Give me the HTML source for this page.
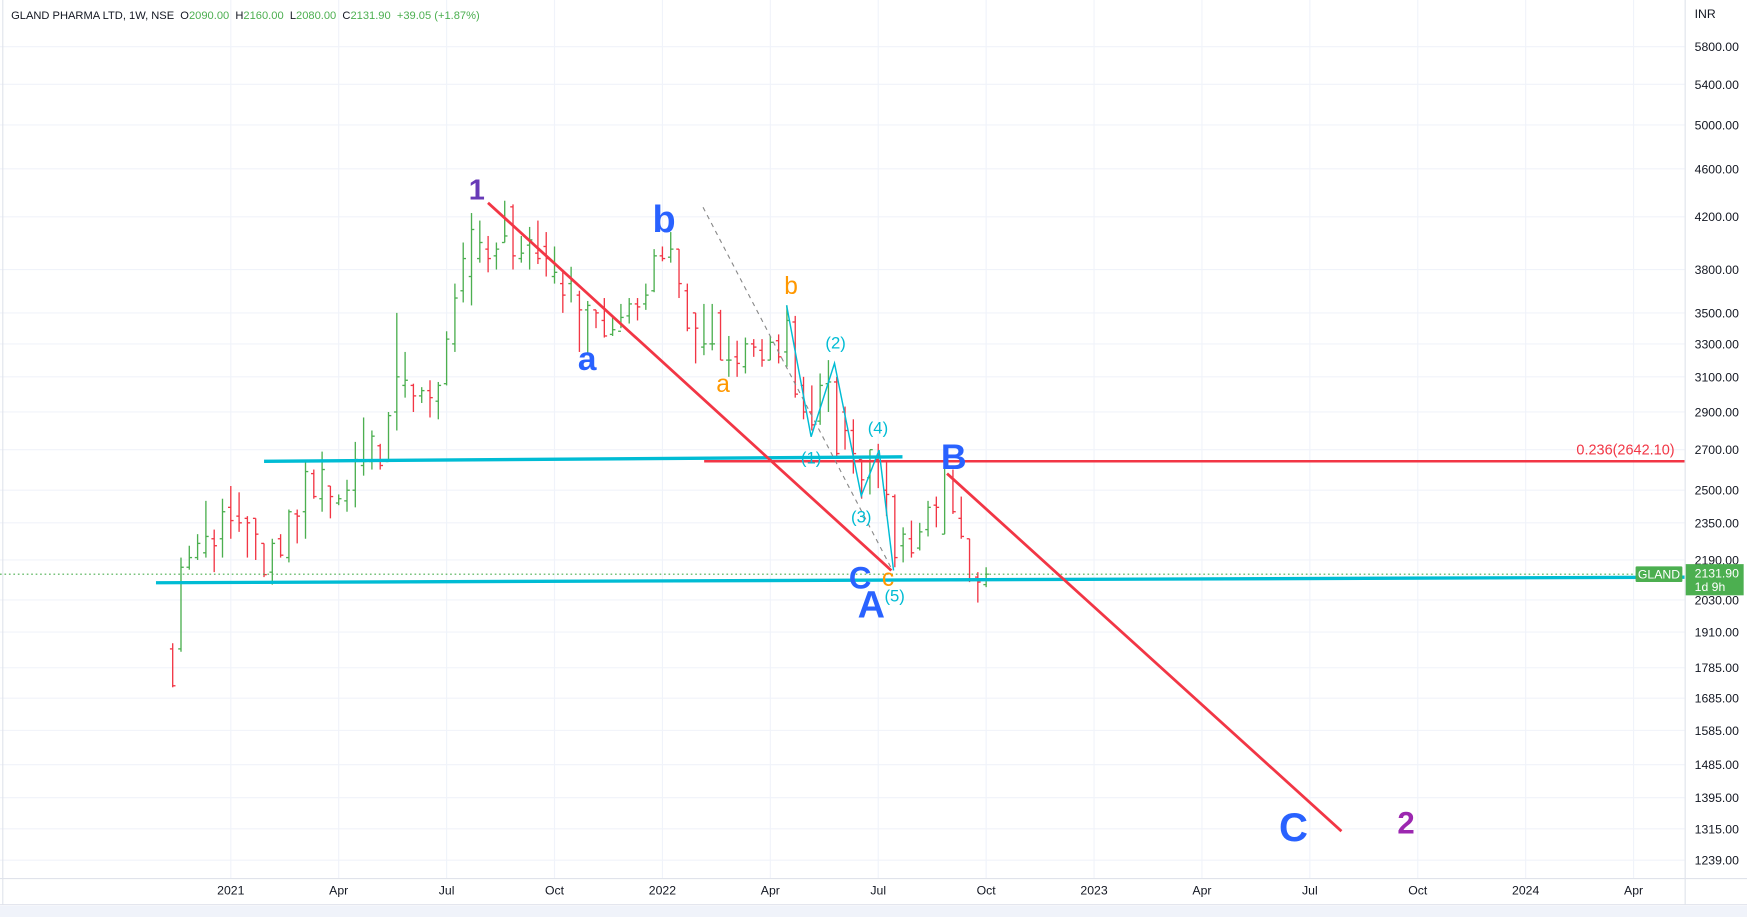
<!DOCTYPE html>
<html><head><meta charset="utf-8">
<style>
html,body{margin:0;padding:0;background:#fff;}
svg{display:block;font-family:"Liberation Sans",sans-serif;}
</style></head>
<body>
<svg id="chart" width="1747" height="917" viewBox="0 0 1568 823" preserveAspectRatio="none" xmlns="http://www.w3.org/2000/svg">
<rect x="0" y="0" width="1568" height="823" fill="#fff"/>
<g id="grid"></g>
<g id="bars"></g>
<g id="draw"></g>
<g id="axes"></g>
</svg>
<script>
const priceTicks=[5800,5400,5000,4600,4200,3800,3500,3300,3100,2900,2700,2500,2350,2190,2030,1910,1785,1685,1585,1485,1395,1315,1239];
const timeLabels=["2021","Apr","Jul","Oct","2022","Apr","Jul","Oct","2023","Apr","Jul","Oct","2024","Apr"];
const timeWeeks=[7,20,33,46,59,72,85,98,111,124,137,150,163,176];
const opens=[1850,1850,2160,2200,2220,2280,2280,2420,2380,2370,2370,2260,2140,2280,2200,2390,2400,2580,2460,2520,2440,2450,2500,2620,2640,2720,2640,2900,3050,3050,2990,3020,2960,3060,3300,3650,3750,3880,3950,3900,4000,4280,3880,3980,3920,3970,3750,3700,3700,3620,3520,3520,3450,3360,3380,3480,3560,3560,3650,3900,3890,3950,3650,3500,3280,3300,3500,3200,3220,3160,3300,3260,3200,3320,3250,3440,3050,2900,2850,3060,3070,2900,2800,2650,2560,2650,2500,2470,2250,2280,2240,2320,2430,2300,2560,2370,2280,2120,2090];
const highs=[1870,2200,2250,2300,2450,2320,2460,2520,2490,2380,2370,2260,2280,2300,2410,2410,2650,2600,2690,2520,2480,2550,2740,2870,2800,2730,2900,3500,3250,3060,3040,3080,3070,3380,3700,4000,4230,4170,4050,4000,4330,4300,4050,4120,4170,4080,3970,3800,3820,3650,3580,3520,3600,3470,3560,3600,3600,3700,3950,3970,4080,3950,3700,3500,3560,3560,3520,3350,3320,3340,3330,3330,3350,3360,3550,3480,3100,3050,3120,3200,3100,2930,2860,2650,2700,2730,2640,2480,2330,2360,2350,2450,2470,2660,2600,2470,2280,2140,2160];
const lows=[1720,1840,2150,2190,2200,2140,2200,2280,2310,2200,2190,2120,2090,2200,2180,2260,2280,2460,2400,2370,2430,2400,2420,2570,2600,2600,2640,2800,2980,2900,2950,2870,2860,3050,3250,3570,3550,3850,3780,3800,4000,3800,3850,3800,3840,3750,3700,3500,3570,3250,3230,3400,3340,3350,3400,3430,3450,3520,3640,3860,3850,3600,3380,3180,3230,3260,3200,3100,3100,3120,3220,3160,3200,3180,3160,2980,2860,2800,2830,2900,2660,2700,2580,2460,2480,2510,2380,2160,2180,2200,2230,2290,2330,2300,2390,2280,2100,2020,2080];
const closes=[1725,2160,2200,2260,2290,2250,2400,2360,2350,2350,2300,2130,2260,2210,2400,2380,2590,2470,2600,2470,2460,2500,2650,2640,2770,2620,2880,3100,3080,2990,3020,2980,3050,3330,3600,3880,4100,4000,3880,3950,4050,3900,3920,4020,3880,3880,3780,3620,3720,3520,3550,3500,3350,3390,3470,3560,3540,3620,3900,3880,3950,3700,3400,3400,3300,3300,3200,3200,3180,3300,3280,3200,3310,3220,3450,3000,2900,2830,3050,3070,2680,2800,2680,2550,2700,2640,2480,2200,2300,2220,2310,2420,2420,2620,2400,2290,2110,2100,2131.9];

const NS="http://www.w3.org/2000/svg";
const PLOT_R=1512, AXIS_Y=788;
function yP(p){return 772-473*Math.log(p/1239);}
function xW(i){return 155+7.45*i;}
function mk(tag,attrs,parent){const e=document.createElementNS(NS,tag);for(const k in attrs)e.setAttribute(k,attrs[k]);parent.appendChild(e);return e;}
const grid=document.getElementById('grid'),bars=document.getElementById('bars'),draw=document.getElementById('draw'),axes=document.getElementById('axes');

priceTicks.forEach(p=>{const l=mk('line',{x1:0,x2:PLOT_R,y1:yP(p),y2:yP(p),stroke:'#f0f3fa','stroke-width':1},grid);

});
timeWeeks.forEach(w=>{const l=mk('line',{x1:xW(w),x2:xW(w),y1:0,y2:AXIS_Y,stroke:'#f0f3fa','stroke-width':1},grid);

});

closes.forEach((c,i)=>{const o=opens[i],h=highs[i],lo=lows[i];const col=c>=o?'#4caf50':'#f23645';const x=xW(i);
const g=mk('g',{},bars);


mk('line',{x1:x,x2:x,y1:yP(h),y2:yP(lo),stroke:col,'stroke-width':1.2},g);
mk('line',{x1:x-2.5,x2:x,y1:yP(o),y2:yP(o),stroke:col,'stroke-width':1.2},g);
mk('line',{x1:x,x2:x+2.5,y1:yP(c),y2:yP(c),stroke:col,'stroke-width':1.2},g);});

const lp=closes[closes.length-1];
const dl=mk('line',{x1:0,x2:PLOT_R,y1:yP(lp),y2:yP(lp),stroke:'#4caf50','stroke-width':1,'stroke-dasharray':'1.5,2.5'},draw);



function line(x1,y1,x2,y2,col,w,name,dash){const l=mk('line',{x1,y1,x2,y2,stroke:col,'stroke-width':w},draw);if(dash)l.setAttribute('stroke-dasharray',dash);

}
function txt(x,y,s,col,size,name,weight,anchor){const t=mk('text',{x,y,fill:col,'font-size':size,'text-anchor':anchor||'middle','font-weight':weight||'normal'},draw);t.textContent=s;

}

line(237,414,810,410,'#00bcd4',3,'support-line-upper');
line(140,523,1512,518,'#00bcd4',3,'support-line-lower');
line(632,414,1512,414,'#f23645',2.2,'fib-0236-line');
line(438,182,800,512,'#f23645',2.5,'trendline-1-a');
line(850,425,1204,746,'#f23645',2.5,'trendline-b-c');
line(631,186,800,510,'#888',1,'dashed-channel',"4,4");
const pl=mk('polyline',{points:'706,274 728,392 749,326 773,445 789,404 802,512',fill:'none',stroke:'#00bcd4','stroke-width':1.3},draw);



txt(1503,408,'0.236(2642.10)','#f23645',13,'fib-label',null,'end');
txt(428,179,'1','#673ab7',26,'wave-1-label','bold');
txt(527,332,'a','#2962ff',30,'wave-a-label','bold');
txt(596,208,'b','#2962ff',34,'wave-b-label','bold');
txt(710,264,'b','#ff9800',22,'wave-b-minor-label');
txt(649,352,'a','#ff9800',22,'wave-a-minor-label');
txt(750,313,'(2)','#00bcd4',15,'wave-2-label');
txt(788,389,'(4)','#00bcd4',15,'wave-4-label');
txt(728,416,'(1)','#00bcd4',15,'wave-1-minor-label');
txt(773,469,'(3)','#00bcd4',15,'wave-3-label');
txt(803,540,'(5)','#00bcd4',15,'wave-5-label');
txt(772,528,'C','#2962ff',28,'wave-c-label','bold');
txt(797,526,'c','#ff9800',22,'wave-c-minor-label');
txt(782,554,'A','#2962ff',34,'wave-A-label','bold');
txt(856,421,'B','#2962ff',32,'wave-B-label','bold');
txt(1161,755,'C','#2962ff',36,'wave-C-target-label','bold');
txt(1262,748,'2','#9c27b0',28,'wave-2-target-label','bold');

mk('line',{x1:PLOT_R+.5,x2:PLOT_R+.5,y1:0,y2:812,stroke:'#e0e3eb'},axes);
mk('line',{x1:2.5,x2:2.5,y1:0,y2:812,stroke:'#e0e3eb'},axes);
mk('line',{x1:0,x2:1568,y1:AXIS_Y+.5,y2:AXIS_Y+.5,stroke:'#e0e3eb'},axes);
mk('line',{x1:0,x2:1568,y1:812,y2:812,stroke:'#e0e3eb'},axes);
mk('rect',{x:0,y:813,width:1568,height:10,fill:'#f0f3fa'},axes);
function at(x,y,s,anchor,name,col,size){const t=mk('text',{x,y,fill:col||'#131722','font-size':size||11,'text-anchor':anchor},axes);t.textContent=s;

}
priceTicks.forEach(p=>at(1521,yP(p)+4,p.toFixed(2),'start','price-tick'));
at(1521,16,'INR','start','currency-label');
timeLabels.forEach((s,i)=>at(xW(timeWeeks[i]),803,s,'middle','time-tick'));
const title=mk('text',{x:10,y:17,'font-size':10,fill:'#131722'},axes);


title.innerHTML='GLAND PHARMA LTD, 1W, NSE&#160;&#160;O<tspan fill="#4caf50">2090.00</tspan>&#160;&#160;H<tspan fill="#4caf50">2160.00</tspan>&#160;&#160;L<tspan fill="#4caf50">2080.00</tspan>&#160;&#160;C<tspan fill="#4caf50">2131.90&#160;&#160;+39.05 (+1.87%)</tspan>';
const gb=mk('rect',{x:1468,y:yP(lp)-7,width:42,height:14,fill:'#4caf50',rx:1},axes);


at(1489,yP(lp)+4,'GLAND','middle','symbol-tag-text','#fff',11);
const pb=mk('rect',{x:1513,y:yP(lp)-9,width:52,height:28,fill:'#4caf50'},axes);


at(1521,yP(lp)+3,'2131.90','start','last-price-text','#fff',11);
at(1521,yP(lp)+15,'1d 9h','start','countdown-text','#fff',11);
</script>
</body></html>
